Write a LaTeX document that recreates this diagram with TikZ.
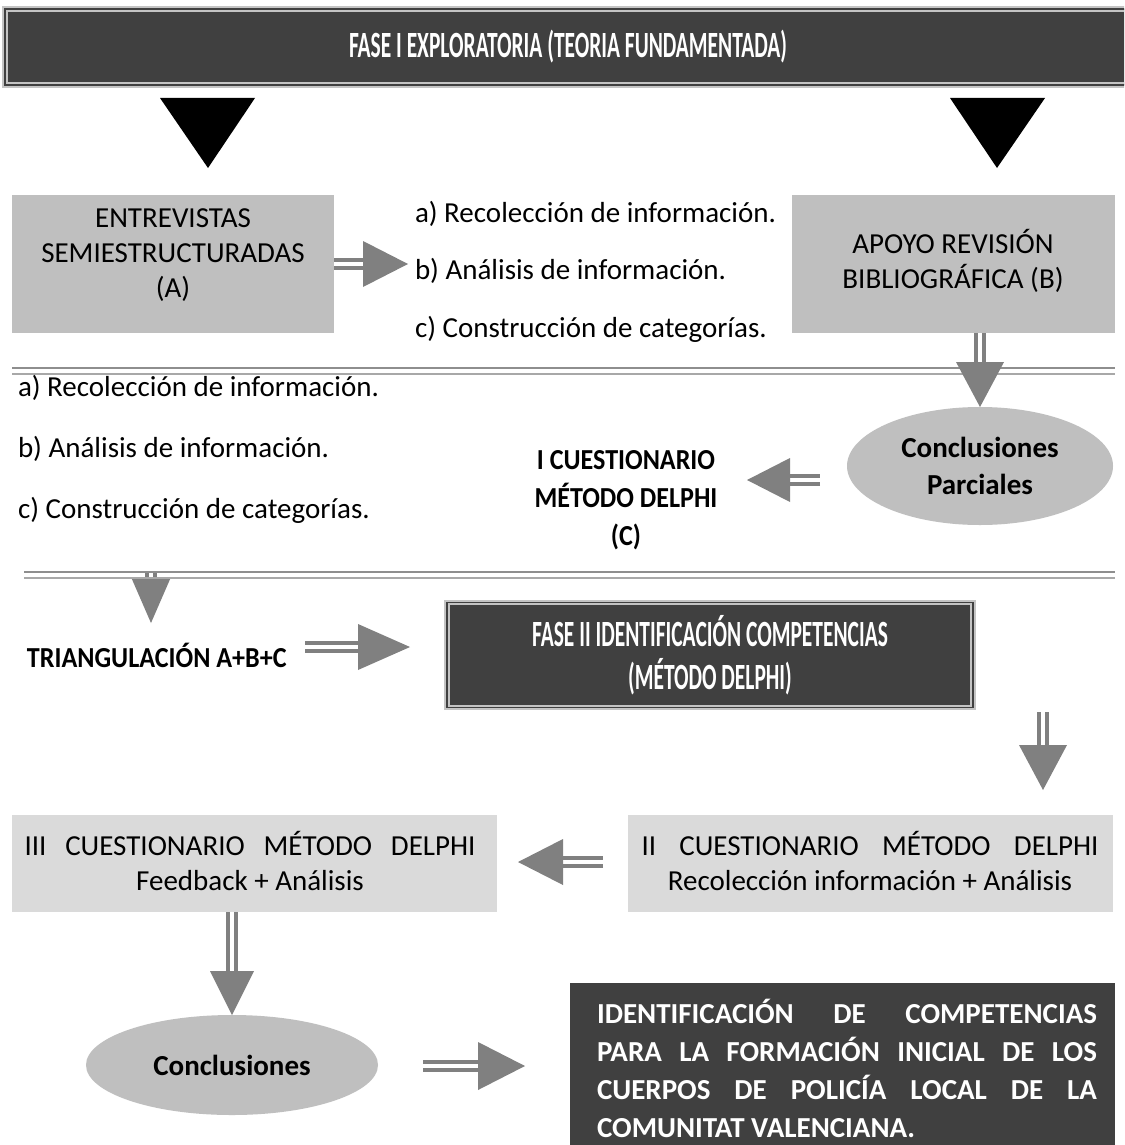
\documentclass[tikz,border=0pt]{standalone}
\usepackage{fontspec}
\setmainfont{Carlito}
\newfontfamily\condfont[FakeStretch=0.58]{Carlito}
\newfontfamily\narrowfont[FakeStretch=0.9]{Carlito}
\usetikzlibrary{calc,shapes.geometric}

\definecolor{darkfill}{HTML}{404040}
\definecolor{midgray}{HTML}{BFBFBF}
\definecolor{lightfill}{HTML}{DADADA}
\definecolor{arrowgray}{HTML}{808080}
\definecolor{framegray}{HTML}{C4C4C4}
\definecolor{ruledark}{HTML}{8E8E8E}
\definecolor{rulelight}{HTML}{A8A8A8}

\tikzset{
  body/.style={font=\fontsize{29}{35}\selectfont, text=black},
  bodybold/.style={font=\narrowfont\bfseries\fontsize{29}{38}\selectfont, text=black},
  banner/.style={rectangle, fill=darkfill, draw=framegray, double=darkfill,
    double distance=1.5pt, line width=2pt, text=white, align=center,
    font=\condfont\bfseries\fontsize{37}{43}\selectfont},
  graybox/.style={rectangle, fill=midgray},
  lightbox/.style={rectangle, fill=lightfill},
  darkbox/.style={rectangle, fill=darkfill},
  oval/.style={ellipse, fill=midgray},
  shaft/.style={draw=arrowgray, line width=4.5pt, double=white, double distance=3.5pt},
  headtip/.style={fill=arrowgray},
  blacktip/.style={fill=black},
  rulehi/.style={draw=ruledark, line width=2.5pt},
  rulelo/.style={draw=rulelight, line width=2.5pt},
}

% double-shaft block arrow: #1 start, #2 tip, #3 head length, #4 head half-width
\newcommand\fatarrow[4]{%
  \coordinate (hbase) at ($(#2)!#3!(#1)$);
  \draw[shaft] (#1) -- (hbase);
  \fill[headtip] ($(hbase)!#4!90:(#2)$) -- (#2) -- ($(hbase)!#4!-90:(#2)$) -- cycle;
}

\begin{document}
\begin{tikzpicture}[x=1pt,y=-1pt, every node/.style={inner sep=0pt, outer sep=0pt}]
\clip (0,0) rectangle (1124,1145);
\fill[white] (0,0) rectangle (1124,1145);

% ---------- phase I header ----------
\node[banner, minimum width=1126, minimum height=76] (fase1) at (568,47)
  {FASE I EXPLORATORIA (TEORIA FUNDAMENTADA)};

% black pointers under the header
\coordinate (ptL) at (208,168);
\coordinate (ptR) at (997,168);
\fill[blacktip] (160,98) -- (255,98) -- (ptL) -- cycle;
\fill[blacktip] (950,98) -- (1045,98) -- (ptR) -- cycle;

% ---------- first row ----------
\node[graybox, minimum width=322, minimum height=138] (boxA) at (173,264) {};
\node[body, align=center] (boxAtext) at (173,255) {ENTREVISTAS\\SEMIESTRUCTURADAS\\(A)};

\node[graybox, minimum width=323, minimum height=138] (boxB) at (953.5,264) {};
\node[body, align=center] (boxBtext) at (953,261) {APOYO REVISIÓN\\BIBLIOGRÁFICA (B)};

\node[body, anchor=west] (stepOneA) at (415,214) {a) Recolección de información.};
\node[body, anchor=west] (stepOneB) at (415,271) {b) Análisis de información.};
\node[body, anchor=west] (stepOneC) at (415,329) {c) Construcción de categorías.};

\coordinate (tipAB) at (408,264);
\fatarrow{boxA.east}{tipAB}{45pt}{23pt}

% separator
\draw[rulehi] (12,368) -- (1115,368);
\draw[rulelo] (12,374) -- (1115,374);

% ---------- second row ----------
\node[oval, minimum width=266, minimum height=118, align=center,
      font=\bfseries\fontsize{29}{37}\selectfont] (parc) at (980,466)
  {Conclusiones\\Parciales};
\fatarrow{boxB.south -| parc.north}{parc.north}{45pt}{24pt}

\node[bodybold, align=center] (cuest1) at (626,500) {I CUESTIONARIO\\MÉTODO DELPHI\\(C)};
\coordinate (startPC) at (820,480);
\coordinate (tipPC) at (747,480);
\fatarrow{startPC}{tipPC}{43pt}{22pt}

\node[body, anchor=west] (stepTwoA) at (18,388) {a) Recolección de información.};
\node[body, anchor=west] (stepTwoB) at (18,449) {b) Análisis de información.};
\node[body, anchor=west] (stepTwoC) at (18,510) {c) Construcción de categorías.};

% separator with the downward pointer
\coordinate (startTr) at (151,573);
\coordinate (tipTr) at (151,623);
\fatarrow{startTr}{tipTr}{46pt}{20pt}
\draw[rulehi] (24,572) -- (1115,572);
\draw[rulelo] (24,578) -- (1115,578);

% ---------- phase II ----------
\node[bodybold, anchor=west] (triang) at (27,655) {TRIANGULACIÓN A+B+C};
\node[banner, minimum width=526, minimum height=105] (fase2) at (710,655)
  {FASE II IDENTIFICACIÓN COMPETENCIAS\\(MÉTODO DELPHI)};
\coordinate (startTF) at (305,647);
\coordinate (tipTF) at (410,647);
\fatarrow{startTF}{tipTF}{52pt}{23pt}

% ---------- Delphi rounds ----------
\node[lightbox, minimum width=485, minimum height=97] (cuest2) at (870.5,863.5) {};
\node[body, align=center] (cuest2text) at (870,861)
  {\makebox[457pt][s]{II CUESTIONARIO MÉTODO DELPHI}\\Recolección información + Análisis};

\node[lightbox, minimum width=485, minimum height=97] (cuest3) at (254.5,863.5) {};
\node[body, align=center] (cuest3text) at (250,861)
  {\makebox[451pt][s]{III CUESTIONARIO MÉTODO DELPHI}\\Feedback + Análisis};

\coordinate (startF2) at (1043,712);
\coordinate (tipF2) at (1043,790);
\fatarrow{startF2}{tipF2}{45pt}{24pt}

\coordinate (startQ) at (603,862);
\coordinate (tipQ) at (518,862);
\fatarrow{startQ}{tipQ}{45pt}{23pt}

% ---------- conclusions ----------
\node[oval, minimum width=292, minimum height=100,
      font=\bfseries\fontsize{29}{35}\selectfont] (concl) at (232,1065) {Conclusiones};
\fatarrow{cuest3.south -| concl.north}{concl.north}{44pt}{22pt}

\node[darkbox, minimum width=545, minimum height=170] (final) at (842.5,1068) {};
\node[align=left, text=white, font=\bfseries\fontsize{29}{38}\selectfont] (finaltext) at (847,1068)
  {\makebox[500pt][s]{IDENTIFICACIÓN DE COMPETENCIAS}\\
   \makebox[500pt][s]{PARA LA FORMACIÓN INICIAL DE LOS}\\
   \makebox[500pt][s]{CUERPOS DE POLICÍA LOCAL DE LA}\\
   \makebox[500pt][l]{COMUNITAT VALENCIANA.}};

\coordinate (startCF) at (423,1066);
\coordinate (tipCF) at (525,1066);
\fatarrow{startCF}{tipCF}{47pt}{24pt}
\end{tikzpicture}
\end{document}
